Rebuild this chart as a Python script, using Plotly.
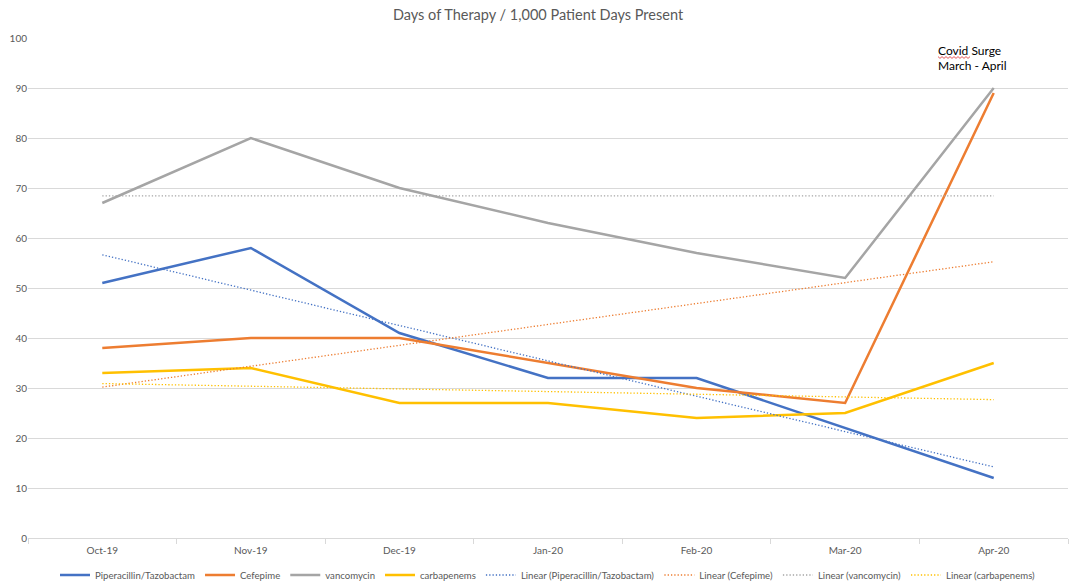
import numpy as np
import plotly.graph_objects as go

months = ["Oct-19", "Nov-19", "Dec-19", "Jan-20", "Feb-20", "Mar-20", "Apr-20"]
pip_taz = [51, 58, 41, 32, 32, 22, 12]
cefepime = [38, 40, 40, 35, 30, 27, 89]
vancomycin = [67, 80, 70, 63, 57, 52, 90]
carbapenems = [33, 34, 27, 27, 24, 25, 35]
note_lines = ["Covid Surge", "March - April"]

series = [
    ("Piperacillin/Tazobactam", pip_taz, "#4472C4"),
    ("Cefepime", cefepime, "#ED7D31"),
    ("vancomycin", vancomycin, "#A5A5A5"),
    ("carbapenems", carbapenems, "#FFC000"),
]

FONT = "Lato"
L, R, T, B, W, H = 28, 8, 38, 45, 1076, 583
PW, PH = W - L - R, H - T - B


def px2paper(px, py):
    return (px - L) / PW, (H - B - py) / PH


fig = go.Figure()
for name, vals, col in series:
    fig.add_trace(go.Scatter(x=months, y=vals, mode="lines", name=name,
                             line=dict(color=col, width=2.5)))

xi = np.arange(1, len(months) + 1)
for name, vals, col in series:
    slope, inter = np.polyfit(xi, vals, 1)
    fig.add_trace(go.Scatter(x=months, y=slope * xi + inter, mode="lines",
                             name=f"Linear ({name})",
                             line=dict(color=col, width=1.3, dash="1.3px,2px")))

# spell-check squiggle under "Covid"
pts = []
for i, sx in enumerate(range(938, 971, 2)):
    pts.append(px2paper(sx, 57.5 + (0.9 if i % 2 else -0.9)))
path = "M " + " L ".join(f"{a:.5f},{b:.5f}" for a, b in pts)

annots = []
for txt, cy in zip(note_lines, [50.5, 65]):
    annots.append(dict(text=txt, xref="paper", yref="paper",
                       x=px2paper(936, 0)[0], y=px2paper(0, cy)[1],
                       xanchor="left", yanchor="middle", align="left",
                       showarrow=False,
                       font=dict(family=FONT, size=12, color="black")))

fig.update_layout(
    width=W, height=H,
    margin=dict(l=L, r=R, t=T, b=B, autoexpand=False),
    paper_bgcolor="white", plot_bgcolor="white",
    font=dict(family=FONT, size=10, color="#595959"),
    title=dict(text="Days of Therapy / 1,000 Patient Days Present",
               x=0.5, xanchor="center", yref="container", y=1 - 15 / 583,
               yanchor="middle",
               font=dict(family=FONT, size=14.5, color="#595959")),
    xaxis=dict(type="category", range=[-0.5, 6.5], showgrid=False,
               showline=True, linecolor="#D9D9D9", linewidth=1,
               ticks="outside", tickson="boundaries", ticklen=5,
               tickcolor="#D9D9D9", ticklabelstandoff=3,
               tickfont=dict(size=10, color="#595959")),
    yaxis=dict(range=[0, 100], dtick=10, showgrid=True, gridcolor="#D9D9D9",
               gridwidth=1, zeroline=False, showline=False, ticks="",
               tickfont=dict(size=10, color="#595959")),
    legend=dict(orientation="h", x=0.5, xanchor="center", yref="container",
                y=(583 - 575) / 583, yanchor="middle",
                font=dict(size=9.6, color="#595959"),
                itemwidth=30, tracegroupgap=0),
    annotations=annots,
    shapes=[dict(type="path", path=path, xref="paper", yref="paper",
                 line=dict(color="#E03030", width=0.8))],
)

fig.write_html("out.html",
               config={"displayModeBar": False},
               post_script="document.body.style.margin='0';"
                           "document.body.style.overflow='hidden';")
